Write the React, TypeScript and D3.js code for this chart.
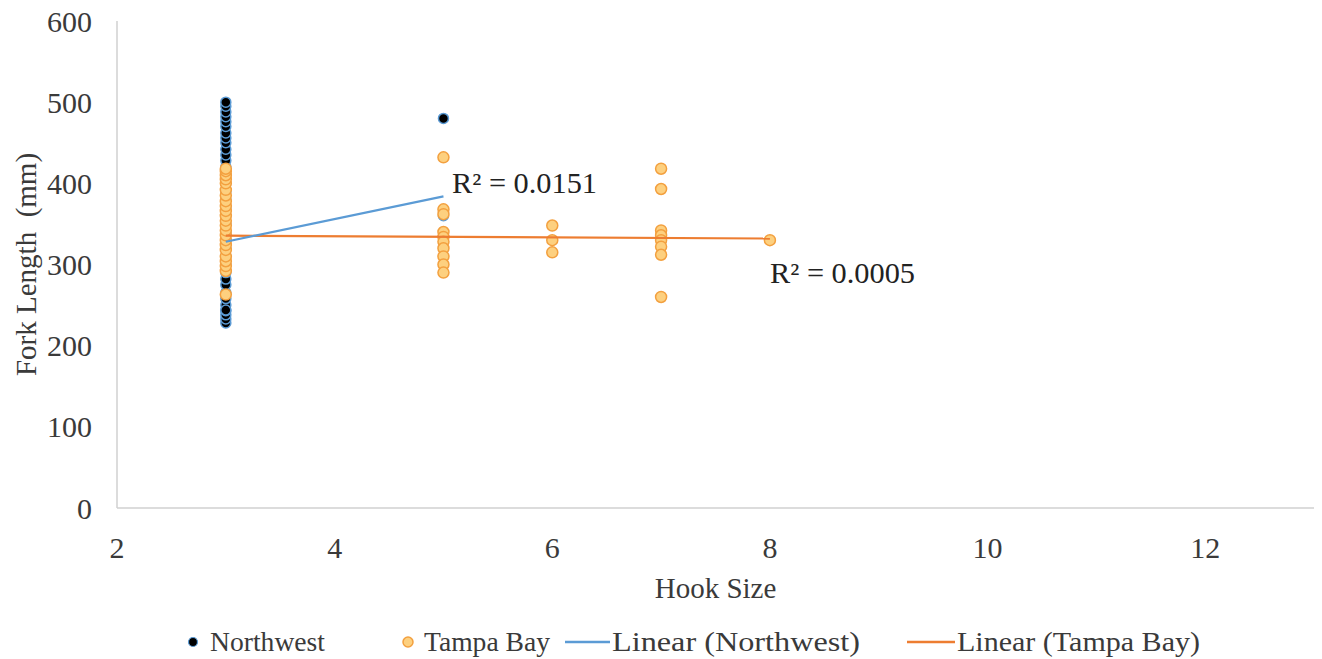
import * as d3 from "d3";

// hook size / fork length (mm)
const northwestX = [
  3, 3, 3, 3, 3, 3, 3, 3, 3, 3, 3, 3, 3, 3, 3, 3, 3, 3, 3, 3, 3, 3, 3, 3, 3, 3, 3, 3, 3, 3, 3, 3, 3, 3, 3, 3,
  5, 5,
];
const northwestY = [
  228, 233, 238, 243, 250, 258, 265, 275, 282, 290, 300, 310, 320, 330, 340, 350, 360, 370, 380, 390,
  400, 410, 420, 428, 435, 442, 450, 456, 462, 470, 476, 482, 488, 495, 500, 244,
  480, 360,
];

const tampaX = [
  3, 3, 3, 3, 3, 3, 3, 3, 3, 3, 3, 3, 3, 3, 3, 3, 3, 3, 3, 3, 3, 3, 3,
  5, 5, 5, 5, 5, 5, 5, 5, 5, 5,
  6, 6, 6,
  7, 7, 7, 7, 7, 7, 7, 7,
  8,
];
const tampaY = [
  263, 292, 298, 304, 310, 318, 324, 330, 336, 342, 348, 354, 360, 366, 372, 378, 385, 392, 400, 405, 410,
  415, 418,
  432, 368, 362, 340, 334, 328, 320, 310, 300, 290,
  348, 330, 315,
  418, 393, 342, 336, 330, 322, 312, 260,
  330,
];

// trendline endpoints
const northwestTrendX = [3, 5];
const northwestTrendY = [328, 384];
const tampaTrendX = [3, 8];
const tampaTrendY = [335.5, 332];

const xTicks = [2, 4, 6, 8, 10, 12];
const yTicks = [0, 100, 200, 300, 400, 500, 600];

const legendItems = ["Northwest", "Tampa Bay", "Linear (Northwest)", "Linear (Tampa Bay)"];

const width = 1322;
const height = 659;
const marginLeft = 117;
const marginRight = 8;
const marginTop = 21;
const marginBottom = 151;

const font = "'Liberation Serif', 'Times New Roman', serif";
const textColor = "#3a3a3a";

export default function App() {
  const x = d3.scaleLinear([2, 13], [marginLeft, width - marginRight]);
  const y = d3.scaleLinear([0, 600], [height - marginBottom, marginTop]);
  const trend = d3
    .line<[number, number]>()
    .x((d) => x(d[0]))
    .y((d) => y(d[1]));

  const nwTrend = trend(northwestTrendX.map((v, i) => [v, northwestTrendY[i]]));
  const tbTrend = trend(tampaTrendX.map((v, i) => [v, tampaTrendY[i]]));

  const bottom = y(0);
  const legendY = 642;

  return (
    <svg
      width={width}
      height={height}
      style={{ position: "absolute", left: 0, top: 0, background: "#fff" }}
      fontFamily={font}
    >
      {/* axes */}
      <line x1={x(2)} x2={x(2)} y1={y(600)} y2={bottom} stroke="#d0d0d0" strokeWidth={1.5} />
      <line x1={x(2)} x2={x(13)} y1={bottom} y2={bottom} stroke="#d0d0d0" strokeWidth={1.5} />

      <g fontSize={30} fill={textColor}>
        {yTicks.map((t) => (
          <text key={t} x={x(2) - 25} y={y(t)} textAnchor="end" dominantBaseline="central">
            {t}
          </text>
        ))}
        {xTicks.map((t) => (
          <text key={t} x={x(t)} y={bottom + 39} textAnchor="middle" dominantBaseline="central">
            {t}
          </text>
        ))}
      </g>

      <text
        x={x(7.5)}
        y={bottom + 80}
        textAnchor="middle"
        dominantBaseline="central"
        fontSize={29}
        fill={textColor}
      >
        Hook Size
      </text>
      <text
        transform={`translate(26,${y(300)}) rotate(-90)`}
        textAnchor="middle"
        dominantBaseline="central"
        fontSize={29}
        fill={textColor}
        style={{ whiteSpace: "pre" }}
      >
        {"Fork Length  (mm)"}
      </text>

      {/* Northwest points */}
      <g fill="#000" stroke="#5b9bd5" strokeWidth={1.5}>
        {northwestX.map((v, i) => (
          <circle key={i} cx={x(v)} cy={y(northwestY[i])} r={5} />
        ))}
      </g>
      {/* Tampa Bay points */}
      <g fill="#fdd07f" stroke="#f3a03f" strokeWidth={1.5}>
        {tampaX.map((v, i) => (
          <circle key={i} cx={x(v)} cy={y(tampaY[i])} r={5.5} />
        ))}
      </g>

      {/* trendlines */}
      <path d={tbTrend ?? ""} fill="none" stroke="#ed7d31" strokeWidth={2.2} />
      <path d={nwTrend ?? ""} fill="none" stroke="#5b9bd5" strokeWidth={2.2} />

      <g fontSize={29} fill="#222">
        <text x={452} y={y(401)} dominantBaseline="central" textLength={145} lengthAdjust="spacingAndGlyphs">
          R² = 0.0151
        </text>
        <text x={770} y={y(290)} dominantBaseline="central" textLength={145} lengthAdjust="spacingAndGlyphs">
          R² = 0.0005
        </text>
      </g>

      {/* legend */}
      <g fontSize={27} fill={textColor}>
        <circle cx={193} cy={legendY} r={4.5} fill="#000" stroke="#5b9bd5" strokeWidth={1.2} />
        <text x={210} y={legendY} dominantBaseline="central" textLength={115} lengthAdjust="spacingAndGlyphs">
          {legendItems[0]}
        </text>
        <circle cx={408} cy={legendY} r={5} fill="#fdd07f" stroke="#f3a03f" strokeWidth={1.5} />
        <text x={424} y={legendY} dominantBaseline="central" textLength={126} lengthAdjust="spacingAndGlyphs">
          {legendItems[1]}
        </text>
        <line x1={565} x2={610} y1={legendY} y2={legendY} stroke="#5b9bd5" strokeWidth={2.5} />
        <text x={612} y={legendY} dominantBaseline="central" textLength={248} lengthAdjust="spacingAndGlyphs">
          {legendItems[2]}
        </text>
        <line x1={907} x2={955} y1={legendY} y2={legendY} stroke="#ed7d31" strokeWidth={2.5} />
        <text x={957} y={legendY} dominantBaseline="central" textLength={243} lengthAdjust="spacingAndGlyphs">
          {legendItems[3]}
        </text>
      </g>
    </svg>
  );
}
